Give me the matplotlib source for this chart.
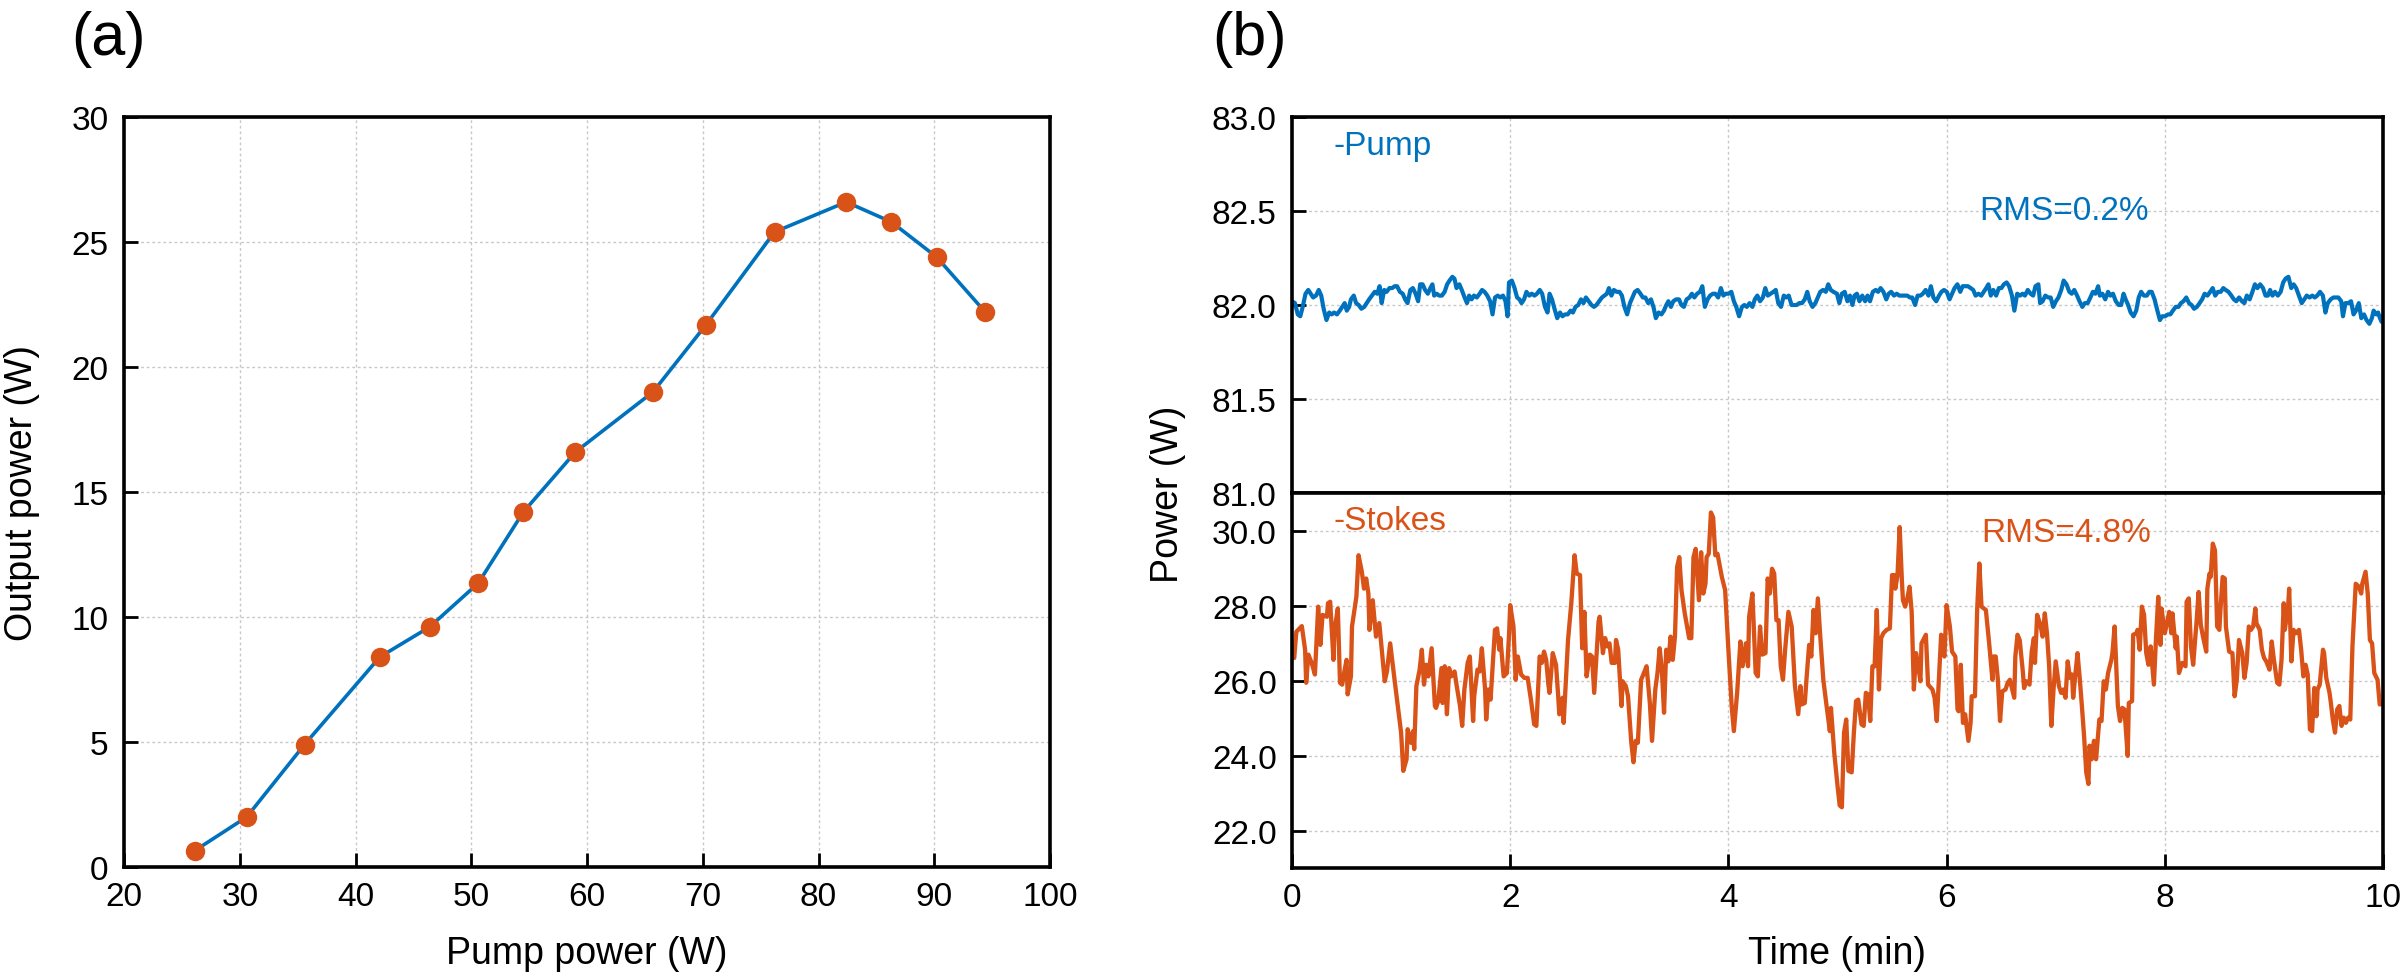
import matplotlib
matplotlib.use("Agg")
import matplotlib.pyplot as plt
from matplotlib.ticker import FormatStrFormatter

plt.rcParams['font.family'] = ['Liberation Sans', 'DejaVu Sans']

# ---------------- data: panel (a) ----------------
pump_power = [26.1, 30.6, 35.6, 42.1, 46.4, 50.6, 54.5, 59.0, 65.7, 70.3, 76.2, 82.4, 86.3, 90.2, 94.4]
output_power = [0.65, 2.0, 4.9, 8.4, 9.6, 11.35, 14.2, 16.6, 19.0, 21.7, 25.4, 26.6, 25.8, 24.4, 22.2]

# ---------------- data: panel (b) pump trace ----------------
pump_t = [0.0, 0.027, 0.053, 0.076, 0.098, 0.124, 0.149, 0.172, 0.194, 0.220, 0.245, 0.268, 0.290, 0.316,
          0.341, 0.364, 0.386, 0.412, 0.438, 0.460, 0.483, 0.502, 0.524, 0.540, 0.566, 0.588, 0.611,
          0.636, 0.662, 0.684, 0.707, 0.732, 0.758, 0.781, 0.803, 0.822, 0.845, 0.867, 0.893, 0.918,
          0.941, 0.963, 0.989, 1.015, 1.037, 1.059, 1.085, 1.108, 1.133, 1.156, 1.175, 1.197, 1.220,
          1.245, 1.268, 1.287, 1.303, 1.326, 1.348, 1.374, 1.399, 1.422, 1.444, 1.470, 1.489, 1.508,
          1.534, 1.556, 1.582, 1.604, 1.624, 1.646, 1.668, 1.694, 1.720, 1.742, 1.765, 1.790, 1.816,
          1.838, 1.861, 1.886, 1.909, 1.934, 1.957, 1.976, 1.989, 2.015, 2.040, 2.063, 2.085, 2.104,
          2.127, 2.149, 2.175, 2.197, 2.223, 2.245, 2.271, 2.293, 2.319, 2.342, 2.361, 2.383, 2.406,
          2.431, 2.457, 2.479, 2.502, 2.527, 2.553, 2.575, 2.598, 2.624, 2.649, 2.672, 2.694, 2.720,
          2.745, 2.768, 2.790, 2.816, 2.841, 2.864, 2.886, 2.905, 2.928, 2.950, 2.976, 3.002, 3.024,
          3.047, 3.072, 3.098, 3.120, 3.143, 3.168, 3.194, 3.216, 3.239, 3.265, 3.290, 3.313, 3.335,
          3.361, 3.386, 3.409, 3.431, 3.450, 3.473, 3.495, 3.521, 3.547, 3.569, 3.592, 3.617, 3.643,
          3.665, 3.688, 3.713, 3.739, 3.761, 3.784, 3.809, 3.832, 3.858, 3.880, 3.906, 3.931, 3.954,
          3.976, 4.002, 4.027, 4.050, 4.072, 4.098, 4.124, 4.146, 4.169, 4.194, 4.220, 4.242, 4.265,
          4.290, 4.316, 4.338, 4.361, 4.386, 4.412, 4.434, 4.457, 4.482, 4.508, 4.531, 4.553, 4.579,
          4.604, 4.627, 4.649, 4.675, 4.700, 4.723, 4.745, 4.771, 4.797, 4.819, 4.842, 4.867, 4.893,
          4.915, 4.938, 4.963,
          4.995, 5.017, 5.040, 5.066, 5.091, 5.114, 5.137, 5.156, 5.178, 5.201, 5.227, 5.253, 5.275,
          5.298, 5.324, 5.350, 5.372, 5.395, 5.421, 5.447, 5.469, 5.492, 5.518, 5.543, 5.566, 5.589,
          5.615, 5.640, 5.663, 5.685, 5.711, 5.734, 5.760, 5.782, 5.808, 5.834, 5.856, 5.879, 5.905,
          5.931, 5.953, 5.976, 6.002, 6.027, 6.050, 6.073, 6.099, 6.125, 6.147, 6.170, 6.195, 6.221,
          6.244, 6.266, 6.292, 6.318, 6.341, 6.363, 6.383, 6.405, 6.428, 6.454, 6.479, 6.502, 6.525,
          6.550, 6.573, 6.599, 6.621, 6.647, 6.673, 6.696, 6.718, 6.744, 6.770, 6.793, 6.815, 6.841,
          6.857, 6.880, 6.905, 6.931, 6.954, 6.977, 7.002, 7.025, 7.051, 7.073, 7.099, 7.125, 7.147,
          7.170, 7.196, 7.218, 7.244, 7.267, 7.293, 7.318, 7.341, 7.364, 7.389, 7.405, 7.428, 7.454,
          7.480, 7.502, 7.525, 7.551, 7.577, 7.600, 7.622, 7.641, 7.664, 7.687, 7.713, 7.738, 7.761,
          7.783, 7.809, 7.835, 7.858, 7.880, 7.906, 7.932, 7.955, 7.977, 8.003, 8.029, 8.051, 8.074,
          8.100, 8.125, 8.148, 8.171, 8.197, 8.222, 8.245, 8.268, 8.294, 8.319, 8.342, 8.365, 8.391,
          8.416, 8.439, 8.462, 8.487, 8.513, 8.536, 8.558, 8.584, 8.610, 8.633, 8.655, 8.681, 8.707,
          8.729, 8.752, 8.778, 8.803, 8.826, 8.849, 8.874, 8.900, 8.923, 8.945, 8.965, 8.987, 9.010,
          9.036, 9.062, 9.085, 9.107, 9.133, 9.159, 9.181, 9.204, 9.230, 9.255, 9.278, 9.301, 9.327,
          9.352, 9.375, 9.397, 9.423, 9.449, 9.472, 9.494, 9.520, 9.546, 9.568, 9.591, 9.617, 9.633,
          9.656, 9.681, 9.707, 9.730, 9.752, 9.778, 9.801, 9.826, 9.849, 9.875, 9.898, 9.914, 9.939,
          9.955, 9.972, 9.988, 10.0]
pump_w = [82.02, 82.01, 81.95, 81.94, 81.99, 82.06, 82.08, 82.06, 82.04, 82.05, 82.08, 82.05, 81.98, 81.92,
          81.96, 81.95, 81.96, 81.95, 81.97, 81.99, 82.01, 81.97, 81.99, 82.03, 82.05, 82.01, 82.00,
          81.98, 81.99, 82.01, 82.03, 82.05, 82.07, 82.06, 82.10, 82.01, 82.08, 82.07, 82.09, 82.09,
          82.10, 82.10, 82.07, 82.06, 82.03, 82.01, 82.08, 82.09, 82.06, 82.02, 82.11, 82.11, 82.08,
          82.06, 82.09, 82.11, 82.05, 82.06, 82.05, 82.05, 82.07, 82.11, 82.13, 82.15, 82.14, 82.09,
          82.11, 82.08, 82.04, 82.01, 82.05, 82.03, 82.05, 82.04, 82.06, 82.08, 82.07, 82.05, 82.02,
          81.95, 82.04, 82.05, 82.04, 82.05, 82.02, 81.94, 82.12, 82.13, 82.09, 82.04, 82.03, 82.01,
          82.03, 82.07, 82.05, 82.06, 82.05, 82.06, 82.08, 82.06, 81.99, 81.96, 82.06, 82.03, 81.98,
          81.93, 81.96, 81.94, 81.95, 81.95, 81.97, 81.96, 81.99, 82.00, 82.03, 82.01, 82.04, 82.02,
          82.00, 81.99, 82.00, 82.02, 82.04, 82.05, 82.06, 82.09, 82.05, 82.08, 82.07, 82.07, 82.05,
          81.99, 81.95, 82.01, 82.04, 82.07, 82.08, 82.06, 82.04, 82.04, 82.01, 82.03, 81.99, 81.93,
          81.96, 81.95, 81.97, 82.00, 82.02, 81.99, 82.02, 82.03, 82.03, 82.00, 81.99, 82.03, 82.04,
          82.06, 82.04, 82.06, 82.07, 82.10, 81.99, 82.03, 82.05, 82.06, 82.06, 82.04, 82.09, 82.05,
          82.06, 82.06, 82.07, 82.02, 81.99, 81.94, 81.99, 82.00, 81.99, 82.01, 81.99, 82.03, 82.05,
          82.02, 82.04, 82.09, 82.05, 82.06, 82.07, 82.08, 82.01, 81.99, 82.05, 82.04, 82.05, 82.00,
          82.00, 82.00, 82.01, 82.01, 82.03, 82.07, 82.02, 81.99, 82.01, 82.04, 82.07, 82.08, 82.07,
          82.11, 82.08, 82.07,
          82.06, 82.01, 82.06, 82.07, 82.02, 82.05, 82.00, 82.05, 82.06, 82.02, 82.05, 82.02, 82.05,
          82.02, 82.07, 82.08, 82.07, 82.09, 82.07, 82.03, 82.06, 82.07, 82.05, 82.06, 82.05, 82.05,
          82.05, 82.05, 82.04, 82.04, 82.00, 82.05, 82.05, 82.06, 82.08, 82.05, 82.10, 82.04, 82.02,
          82.05, 82.07, 82.08, 82.07, 82.03, 82.06, 82.09, 82.11, 82.07, 82.10, 82.10, 82.10, 82.09,
          82.08, 82.05, 82.06, 82.05, 82.07, 82.09, 82.11, 82.05, 82.08, 82.05, 82.09, 82.09, 82.11,
          82.12, 82.10, 82.05, 81.97, 82.06, 82.05, 82.06, 82.05, 82.08, 82.06, 82.05, 82.10, 82.11,
          82.01, 82.02, 82.05, 82.04, 82.04, 81.99, 82.02, 82.04, 82.08, 82.13, 82.11, 82.07, 82.06,
          82.08, 82.05, 82.02, 81.99, 82.01, 82.01, 82.04, 82.07, 82.06, 82.10, 82.05, 82.06, 82.03,
          82.07, 82.05, 82.06, 82.02, 82.00, 82.00, 82.06, 82.03, 82.00, 81.96, 81.94, 81.97, 82.04,
          82.07, 82.05, 82.05, 82.07, 82.07, 82.03, 81.97, 81.92, 81.94, 81.94, 81.95, 81.95, 81.97,
          81.99, 81.99, 82.01, 82.02, 82.04, 82.01, 82.00, 81.98, 81.99, 82.01, 82.03, 82.06, 82.05,
          82.07, 82.09, 82.05, 82.07, 82.07, 82.09, 82.08, 82.07, 82.05, 82.03, 82.02, 82.04, 82.02,
          82.01, 82.05, 82.03, 82.07, 82.11, 82.09, 82.11, 82.09, 82.05, 82.05, 82.08, 82.05, 82.07,
          82.05, 82.07, 82.12, 82.14, 82.15, 82.09, 82.11, 82.09, 82.05, 82.01, 82.03, 82.05, 82.04,
          82.05, 82.04, 82.05, 82.07, 82.05, 81.96, 82.01, 82.03, 82.04, 82.04, 82.04, 82.02, 81.94,
          82.01, 82.01, 82.02, 81.95, 81.97, 82.01, 81.93, 81.95, 81.92, 81.90, 81.93, 81.97, 81.95,
          81.96, 81.93, 81.91, 81.94]

# ---------------- data: panel (b) Stokes trace ----------------
stokes_t = [0.00, 0.02, 0.04, 0.07, 0.09, 0.12, 0.13, 0.15, 0.18, 0.21, 0.24, 0.26, 0.28, 0.32, 0.33, 0.35,
            0.38, 0.39, 0.42, 0.44, 0.46, 0.48, 0.50, 0.51, 0.54, 0.55, 0.59, 0.61, 0.64, 0.66, 0.68,
            0.70, 0.71, 0.74, 0.77, 0.80, 0.85, 0.87, 0.90, 0.94, 0.97, 1.00, 1.02, 1.05, 1.06, 1.09,
            1.11, 1.12, 1.14, 1.17, 1.19, 1.21, 1.23, 1.25, 1.28, 1.31, 1.32, 1.34, 1.37, 1.38, 1.40,
            1.42, 1.44, 1.46, 1.49, 1.51, 1.54, 1.56, 1.58, 1.61, 1.63, 1.66, 1.67, 1.70, 1.72, 1.74,
            1.77, 1.78, 1.80, 1.82, 1.86, 1.88, 1.90, 1.91, 1.94, 1.97, 1.99, 2.00, 2.03, 2.05, 2.07,
            2.10, 2.13, 2.16, 2.19, 2.22, 2.24, 2.27, 2.29, 2.31, 2.33, 2.35, 2.36, 2.39, 2.42, 2.44,
            2.45, 2.48, 2.49, 2.53, 2.56, 2.59, 2.61, 2.64, 2.66, 2.68, 2.70, 2.73, 2.75, 2.77, 2.81,
            2.82, 2.85, 2.87, 2.89, 2.91, 2.93, 2.96, 2.97, 2.99, 3.02, 3.03, 3.06, 3.08, 3.11, 3.13,
            3.15, 3.17, 3.20, 3.22, 3.25, 3.28, 3.30,
            3.33, 3.35, 3.37, 3.39, 3.41, 3.43, 3.45, 3.47, 3.49, 3.51, 3.53, 3.55, 3.57, 3.60, 3.64,
            3.66, 3.68, 3.70, 3.73, 3.75, 3.77, 3.79, 3.80, 3.82, 3.84, 3.86, 3.88, 3.90, 3.94, 3.97,
            4.00, 4.03, 4.05, 4.08, 4.11, 4.13, 4.16, 4.18, 4.19, 4.22, 4.23, 4.25, 4.27, 4.29, 4.31,
            4.34, 4.36, 4.38, 4.40, 4.42, 4.44, 4.46, 4.48, 4.50, 4.52, 4.55, 4.58, 4.61, 4.64, 4.66,
            4.67, 4.70, 4.72, 4.74, 4.76, 4.78, 4.80, 4.82, 4.84, 4.87, 4.90, 4.93, 4.94, 4.97, 5.00,
            5.02, 5.04, 5.06, 5.08, 5.10, 5.13, 5.15, 5.17, 5.19, 5.22, 5.24, 5.26, 5.28, 5.30, 5.32,
            5.34, 5.36, 5.38, 5.40, 5.42, 5.45, 5.48, 5.50, 5.52, 5.53, 5.55, 5.57, 5.59, 5.60, 5.62,
            5.64, 5.66, 5.68, 5.70, 5.72, 5.74, 5.76, 5.77, 5.81, 5.83, 5.87, 5.89, 5.91, 5.93, 5.95,
            5.96, 5.98, 6.00, 6.03, 6.05, 6.08, 6.10, 6.11, 6.13, 6.15, 6.17, 6.20, 6.22, 6.23, 6.26,
            6.28, 6.30, 6.32, 6.36, 6.39, 6.42, 6.43, 6.45, 6.47, 6.49, 6.51, 6.54, 6.56, 6.58, 6.62,
            6.63, 6.65, 6.67,
            6.70, 6.71, 6.73, 6.76, 6.78, 6.80, 6.81, 6.83, 6.86, 6.88, 6.90, 6.92, 6.94, 6.96, 6.98,
            7.00, 7.03, 7.05, 7.07, 7.09, 7.11, 7.13, 7.15, 7.16, 7.18, 7.20, 7.22, 7.24, 7.26, 7.28,
            7.30, 7.31, 7.33, 7.35, 7.37, 7.39, 7.40, 7.42, 7.44, 7.46, 7.48, 7.51, 7.52, 7.54, 7.57,
            7.59, 7.61, 7.63, 7.66, 7.67, 7.70, 7.71, 7.74, 7.75, 7.77, 7.79, 7.81, 7.83, 7.85, 7.87,
            7.90, 7.92, 7.94, 7.96, 7.97, 8.00, 8.02, 8.04, 8.06, 8.07, 8.10, 8.11, 8.13, 8.16, 8.19,
            8.20, 8.22, 8.24, 8.26, 8.29, 8.31, 8.33, 8.35, 8.38, 8.39, 8.41, 8.42, 8.44, 8.46, 8.48,
            8.50, 8.51, 8.53, 8.55, 8.56, 8.59, 8.62, 8.64, 8.66, 8.68, 8.71, 8.73, 8.75, 8.77, 8.79,
            8.81, 8.83, 8.84, 8.87, 8.89, 8.91, 8.93, 8.96, 8.98, 9.00, 9.03, 9.05, 9.07, 9.09, 9.10,
            9.13, 9.14, 9.16, 9.18, 9.20, 9.23, 9.25, 9.27, 9.29, 9.31, 9.33, 9.35, 9.37, 9.39, 9.40,
            9.42, 9.45, 9.46, 9.48, 9.51, 9.52, 9.54, 9.56, 9.58, 9.60, 9.62, 9.64, 9.66, 9.68, 9.70,
            9.72, 9.75, 9.78, 9.80, 9.81, 9.84, 9.86, 9.88, 9.90, 9.92, 9.95, 9.97, 10.00]
stokes_w = [26.80, 26.60, 27.30, 27.39, 27.45, 26.82, 25.94, 26.69, 26.47, 26.16, 27.97, 26.95, 27.75, 27.70, 28.06, 28.10,
            26.55, 27.35, 27.92, 25.94, 25.89, 26.24, 26.55, 25.63, 26.11, 27.44, 28.23, 29.34, 28.90, 28.45, 28.72,
            28.32, 27.35, 28.14, 27.17, 27.53, 25.98, 26.24, 26.99, 26.02, 25.32, 24.61, 23.59, 23.90, 24.70, 24.34,
            24.65, 24.17, 25.85, 26.29, 26.82, 25.89, 26.42, 26.11, 26.86, 25.32, 25.27, 25.45, 26.33, 25.40, 26.38,
            25.10, 26.33, 26.11, 26.24, 25.85, 25.32, 24.79, 25.76, 26.47, 26.64, 24.92, 25.58, 26.29, 26.24, 26.86,
            25.76, 24.96, 25.76, 25.49, 27.35, 27.39, 26.82, 27.13, 26.11, 26.20, 27.26, 28.01, 27.44, 26.02, 26.64,
            26.16, 26.07, 26.07, 25.49, 24.83, 24.79, 26.64, 26.47, 26.77, 26.55, 25.89, 25.67, 26.73, 26.42, 25.58,
            25.10, 25.54, 24.87, 27.08, 28.06, 29.34, 28.85, 28.81, 26.86, 27.83, 26.11, 26.69, 26.64, 25.67, 27.57,
            27.70, 26.73, 27.13, 26.91, 26.99, 26.47, 26.47, 27.08, 26.82, 25.32, 25.98, 25.85, 25.58, 24.34, 23.82,
            24.39, 24.34, 26.02, 26.16, 26.38, 25.40, 24.39,
            25.76, 26.20, 26.86, 26.29, 25.14, 26.82, 26.51, 27.17, 26.55, 27.17, 29.03, 29.29, 28.41, 27.79, 27.13,
            27.13, 29.29, 29.51, 28.14, 29.42, 28.32, 28.58, 29.29, 29.38, 30.48, 30.35, 29.34, 29.38, 28.76, 28.41,
            26.82, 25.32, 24.65, 25.67, 27.04, 26.38, 26.99, 26.38, 27.70, 28.32, 27.61, 26.20, 26.11, 27.44, 26.69,
            26.73, 28.72, 28.32, 28.98, 28.85, 27.61, 27.61, 26.38, 26.02, 26.82, 27.83, 27.44, 25.85, 25.10, 25.85,
            25.36, 25.40, 26.20, 26.95, 26.64, 27.88, 27.26, 28.19, 27.26, 26.02, 25.32, 24.65, 25.27, 24.08, 23.20,
            22.67, 22.62, 24.61, 24.96, 23.59, 23.55, 24.61, 25.45, 25.49, 24.83, 24.79, 25.67, 25.63, 24.92, 26.38,
            26.38, 27.88, 25.76, 27.13, 27.26, 27.35, 27.39, 28.81, 28.81, 28.45, 28.81, 30.09, 28.67, 28.14, 27.97,
            28.19, 28.50, 27.83, 25.76, 26.73, 26.38, 25.98, 26.99, 27.22, 25.89, 25.76, 25.54, 24.92, 26.07, 27.22,
            26.95, 26.64, 28.01, 27.44, 26.77, 26.64, 25.23, 25.18, 26.42, 24.87, 25.10, 24.39, 24.87, 25.58, 25.58,
            27.88, 29.12, 27.97, 27.88, 26.99, 26.02, 26.64, 26.64, 26.02, 24.92, 25.71, 25.76, 25.94, 26.02, 25.54,
            26.64, 27.22, 27.08,
            26.20, 25.80, 25.98, 25.89, 26.77, 27.13, 26.47, 27.75, 27.48, 27.17, 27.79, 27.26, 26.38, 24.79, 25.76,
            26.51, 25.85, 25.67, 25.76, 25.54, 26.51, 26.07, 26.16, 25.54, 26.16, 26.73, 26.07, 25.32, 24.52, 23.55,
            23.24, 24.26, 23.90, 24.39, 23.90, 24.61, 24.96, 24.92, 25.98, 25.76, 26.20, 26.55, 26.73, 27.44, 25.32,
            24.92, 25.27, 25.23, 23.99, 25.40, 25.45, 27.22, 27.26, 27.35, 26.82, 27.97, 27.75, 26.73, 26.42, 26.91,
            25.89, 27.17, 28.23, 26.95, 27.92, 27.26, 27.53, 27.83, 27.26, 27.79, 26.86, 27.17, 26.20, 26.47, 26.38,
            28.10, 28.19, 26.91, 26.42, 27.53, 28.36, 27.48, 27.17, 26.77, 28.45, 28.85, 28.76, 29.65, 29.47, 27.44,
            27.35, 27.88, 28.76, 28.72, 27.44, 26.77, 26.73, 25.58, 26.02, 27.08, 26.73, 26.07, 26.47, 27.44, 27.35,
            27.44, 27.92, 27.53, 27.35, 26.82, 26.60, 26.51, 26.29, 27.04, 26.55, 25.94, 25.89, 26.55, 28.06, 27.35,
            27.97, 28.45, 26.51, 27.35, 27.26, 27.35, 26.82, 26.11, 26.42, 26.16, 24.70, 24.65, 25.80, 25.05, 25.76,
            25.89, 26.82, 26.73, 26.07, 25.67, 25.45, 24.96, 24.61, 25.23, 25.32, 24.79, 25.01, 24.87, 25.01, 24.96,
            26.91, 28.58, 28.50, 28.32, 28.58, 28.90, 28.32, 27.08, 26.99, 26.20, 26.02, 25.36, 25.40]

# ---------------- text ----------------
panel_labels = ['(a)', '(b)']
xlabel_a = 'Pump power (W)'
ylabel_a = 'Output power (W)'
xlabel_b = 'Time (min)'
ylabel_b = 'Power (W)'
pump_text = '-Pump'
stokes_text = '-Stokes'
pump_rms = 'RMS=0.2%'
stokes_rms = 'RMS=4.8%'

BLUE = '#0072BD'
ORANGE = '#D95319'
GRID = dict(color='#c8c8c8', linestyle=(0, (2, 2)), linewidth=1.0)
TICKFS = 24
LABELFS = 27

W, H = 2404, 978
fig = plt.figure(figsize=(W / 100, H / 100), dpi=100)


def fx(px):
    return px / W


def fy(py):
    return 1 - py / H


def style_axes(ax, xticks_on=True):
    for sp in ax.spines.values():
        sp.set_linewidth(2.6)
        sp.set_color('black')
    ax.tick_params(axis='both', direction='in', length=10, width=2.0,
                   labelsize=TICKFS, top=False, right=False, pad=11)
    ax.tick_params(axis='x', pad=10)
    if not xticks_on:
        ax.tick_params(axis='x', length=0, labelbottom=False)
    ax.grid(True, **GRID)
    ax.set_axisbelow(True)


# ---------------- panel (a) ----------------
axa = fig.add_axes([fx(124), fy(868), fx(1050 - 124), (868 - 118) / H])
axa.plot(pump_power, output_power, color=BLUE, lw=2.6, marker='o', ms=14,
         mfc=ORANGE, mec=ORANGE, mew=0, zorder=3)
axa.set_xlim(20, 100)
axa.set_ylim(0, 30)
axa.set_xticks(range(20, 101, 10))
axa.set_yticks(range(0, 31, 5))
style_axes(axa)

# ---------------- panel (b) upper ----------------
axu = fig.add_axes([fx(1292), fy(494), fx(2383 - 1292), (494 - 118) / H])
axu.plot(pump_t, pump_w, color=BLUE, lw=3.0)
axu.set_xlim(0, 10)
axu.set_ylim(81.0, 83.0)
axu.set_xticks(range(0, 11, 2))
axu.set_yticks([81.0, 81.5, 82.0, 82.5, 83.0])
axu.yaxis.set_major_formatter(FormatStrFormatter('%.1f'))
style_axes(axu, xticks_on=False)
axu.text(0.376, 82.85, pump_text, color=BLUE, fontsize=24, ha='left', va='center')
axu.text(6.30, 82.50, pump_rms, color=BLUE, fontsize=24, ha='left', va='center')

# ---------------- panel (b) lower ----------------
axl = fig.add_axes([fx(1292), fy(869), fx(2383 - 1292), (869 - 494) / H])
axl.plot(stokes_t, stokes_w, color=ORANGE, lw=3.1)
axl.set_xlim(0, 10)
axl.set_ylim(21.0, 31.0)
axl.set_xticks(range(0, 11, 2))
axl.set_yticks([22, 24, 26, 28, 30])
axl.yaxis.set_major_formatter(FormatStrFormatter('%.1f'))
style_axes(axl)
axl.text(0.376, 30.28, stokes_text, color=ORANGE, fontsize=24, ha='left', va='center')
axl.text(6.32, 29.95, stokes_rms, color=ORANGE, fontsize=24, ha='left', va='center')

# ---------------- labels ----------------
fig.text(fx(71), fy(40), panel_labels[0], fontsize=44, ha='left', va='center')
fig.text(fx(1212), fy(40), panel_labels[1], fontsize=44, ha='left', va='center')
fig.text(fx(587), fy(954), xlabel_a, fontsize=LABELFS, ha='center', va='center')
fig.text(fx(1837), fy(954), xlabel_b, fontsize=LABELFS, ha='center', va='center')
fig.text(fx(22), fy(493), ylabel_a, fontsize=LABELFS, ha='center', va='center', rotation=90)
fig.text(fx(1168), fy(494), ylabel_b, fontsize=LABELFS, ha='center', va='center', rotation=90)

fig.savefig('out.png', dpi=100)
